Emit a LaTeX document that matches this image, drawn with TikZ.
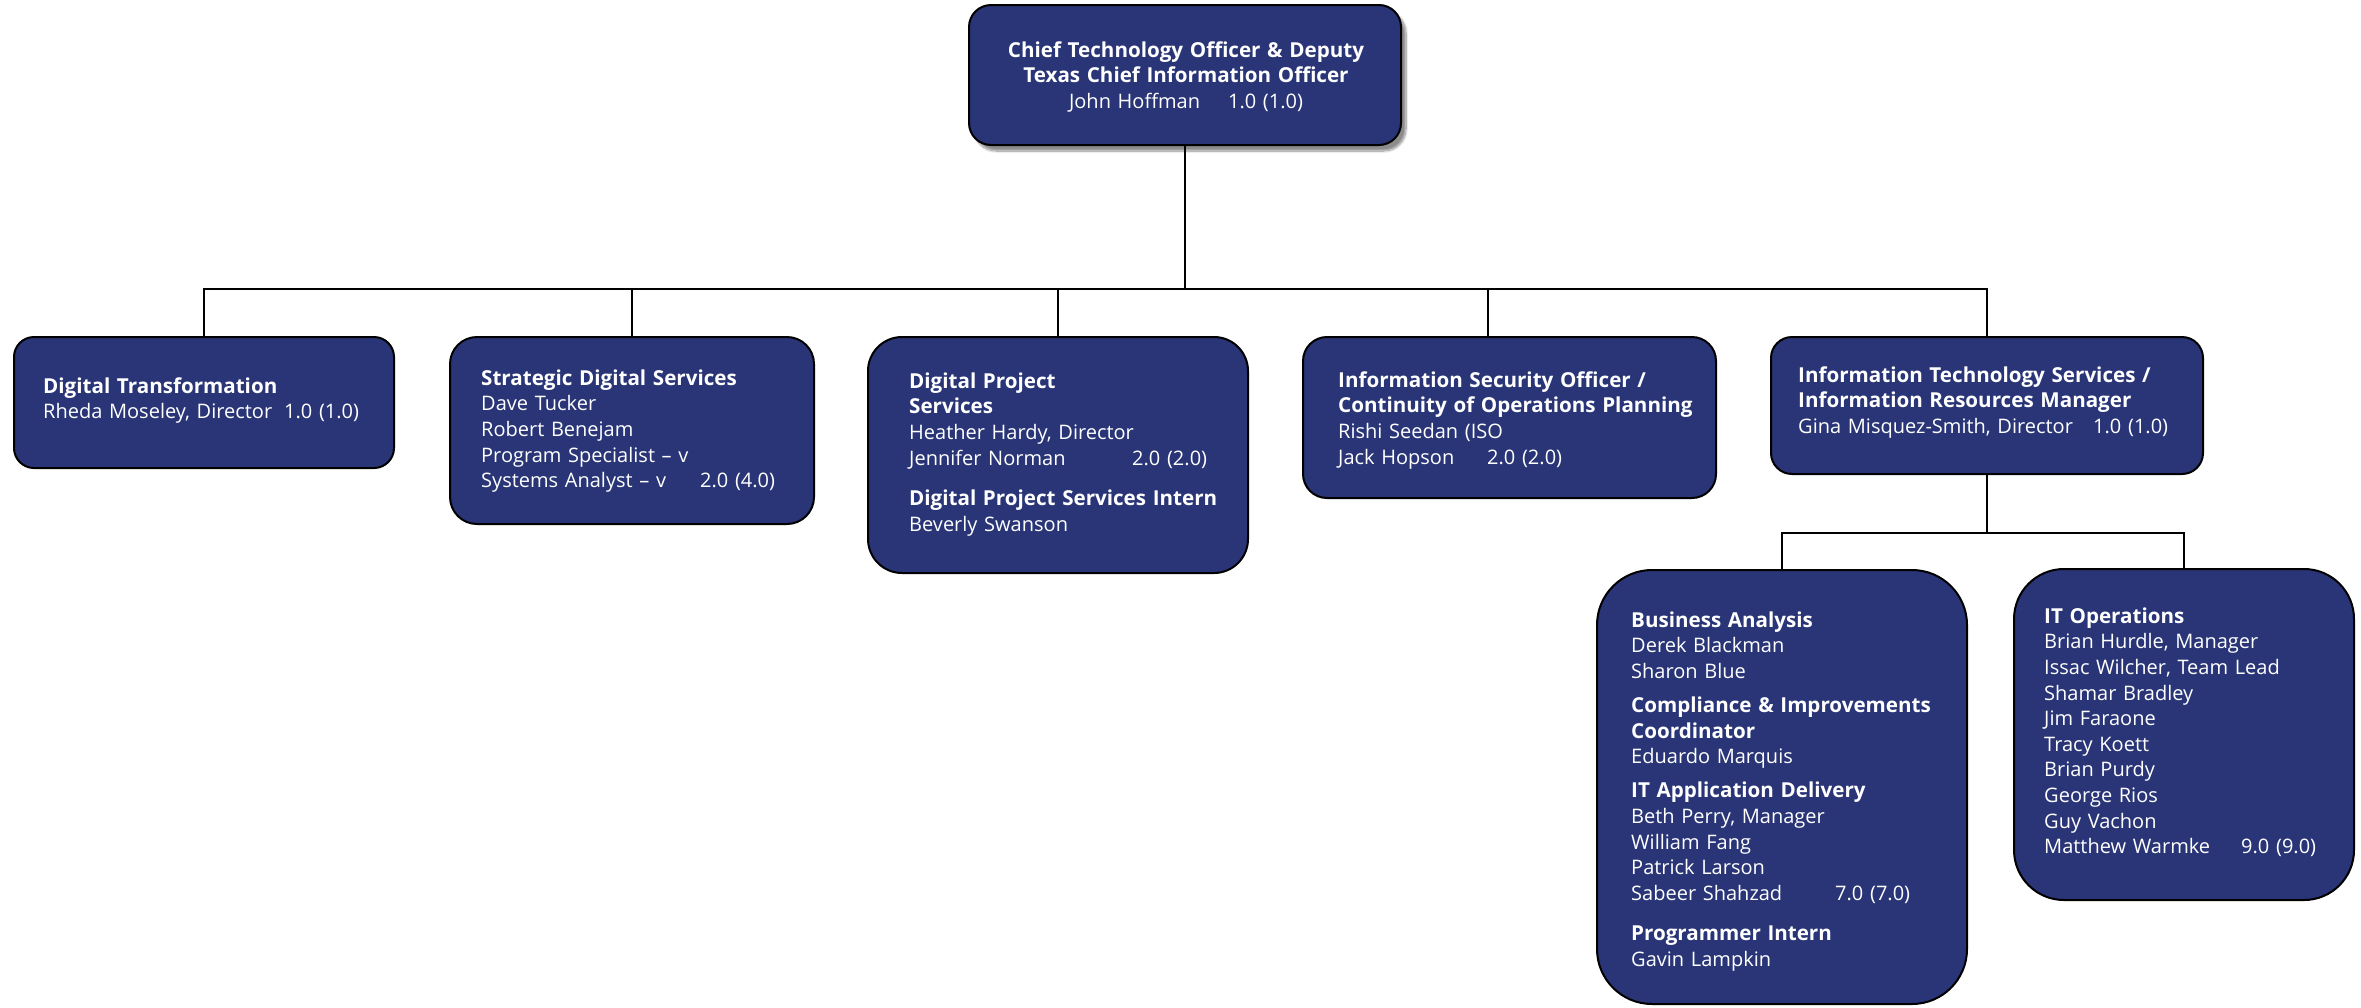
\documentclass[tikz,border=0pt]{standalone}
\usepackage{fontspec}
\setmainfont{Open Sans}
\usetikzlibrary{shadows.blur}
\definecolor{navy}{RGB}{41,53,118}
\newcommand\fsz{\fontsize{20}{25.6}\selectfont}
\newcommand\hd[1]{{\fontsize{20.6}{25.6}\selectfont\bfseries #1}}
\newcommand\tabcol[2]{\makebox[#1][l]{#2}}
\begin{document}
\begin{tikzpicture}[x=1pt,y=-1pt,
  box/.style={draw=black, line width=2pt, fill=navy, rounded corners=#1, inner sep=0pt, anchor=north west},
  box/.default=20pt,
  txt/.style={text=white, align=left, text width=440pt, inner sep=0pt, anchor=north west, font=\fsz},
  link/.style={draw=black, line width=2pt},
]
\useasboundingbox (0,0) rectangle (2361,1007);
% boxes
\node[box=22pt, minimum width=432pt, minimum height=140pt,
  blur shadow={shadow xshift=5pt, shadow yshift=-6pt, shadow blur steps=10, shadow opacity=45}] (top) at (968,4) {};
\node[box=20pt, minimum width=380pt, minimum height=131pt] (b1) at (13,336) {};
\node[box=27pt, minimum width=364pt, minimum height=187pt] (b2) at (449,336) {};
\node[box=34pt, minimum width=380pt, minimum height=236pt] (b3) at (867,336) {};
\node[box=24pt, minimum width=413pt, minimum height=161pt] (b4) at (1302,336) {};
\node[box=21pt, minimum width=432pt, minimum height=137pt] (b5) at (1770,336) {};
\node[box=55pt, minimum width=370pt, minimum height=434pt] (b6) at (1596,569) {};
\node[box=50pt, minimum width=340pt, minimum height=331pt] (b7) at (2013,568) {};
% texts
\node[txt, align=center, text width=430pt, anchor=north] (t0) at (1186,39.08)
  {\strut\hd{Chief Technology Officer \& Deputy}\\
   \hd{Texas Chief Information Officer}\\
   \tabcol{159pt}{John Hoffman}1.0 (1.0)};
\node[txt] (t1) at (43,375.08)
  {\strut\hd{Digital Transformation}\\
   \tabcol{241pt}{Rheda Moseley, Director}1.0 (1.0)};
\node[txt] (t2) at (481,367.08)
  {\strut\hd{Strategic Digital Services}\\
   Dave Tucker\\
   Robert Benejam\\
   Program Specialist – v\\
   \tabcol{219pt}{Systems Analyst – v}2.0 (4.0)};
\node[txt] (t3) at (909,370.08)
  {\strut\hd{Digital Project}\\
   \hd{Services}\\
   Heather Hardy, Director\\
   \tabcol{223pt}{Jennifer Norman}2.0 (2.0)\\[15pt]
   \hd{Digital Project Services Intern}\\
   Beverly Swanson};
\node[txt] (t4) at (1338,369.08)
  {\strut\hd{Information Security Officer /}\\
   \hd{Continuity of Operations Planning}\\
   Rishi Seedan (ISO\\
   \tabcol{149pt}{Jack Hopson}2.0 (2.0)};
\node[txt] (t5) at (1798,364.08)
  {\strut\hd{Information Technology Services /}\\
   \hd{Information Resources Manager}\\
   \tabcol{295pt}{Gina Misquez-Smith, Director}1.0 (1.0)};
\node[txt] (t6) at (1631,609.08)
  {\strut\hd{Business Analysis}\\
   Derek Blackman\\
   Sharon Blue\\[8.5pt]
   \hd{Compliance \& Improvements}\\
   \hd{Coordinator}\\
   Eduardo Marquis\\[8.5pt]
   \hd{IT Application Delivery}\\
   Beth Perry, Manager\\
   William Fang\\
   Patrick Larson\\
   \tabcol{204pt}{Sabeer Shahzad}7.0 (7.0)\\[15pt]
   \hd{Programmer Intern}\\
   Gavin Lampkin};
\node[txt] (t7) at (2044,605.08)
  {\strut\hd{IT Operations}\\
   Brian Hurdle, Manager\\
   Issac Wilcher, Team Lead\\
   Shamar Bradley\\
   Jim Faraone\\
   Tracy Koett\\
   Brian Purdy\\
   George Rios\\
   Guy Vachon\\
   \tabcol{197pt}{Matthew Warmke}9.0 (9.0)};
% connectors
\coordinate (bus) at (0,289);
\coordinate (sub) at (0,533);
\coordinate (d4) at (1488,336);
\draw[link] (top.south) -- (top.south |- bus);
\draw[link] (b1.north) -- (b1.north |- bus) -- (b5.north |- bus) -- (b5.north);
\draw[link] (b2.north) -- (b2.north |- bus);
\draw[link] (b3.north) -- (b3.north |- bus);
\draw[link] (d4) -- (d4 |- bus);
\draw[link] (b5.south) -- (b5.south |- sub);
\draw[link] (b6.north) -- (b6.north |- sub) -- (b7.north |- sub) -- (b7.north);
\end{tikzpicture}
\end{document}
